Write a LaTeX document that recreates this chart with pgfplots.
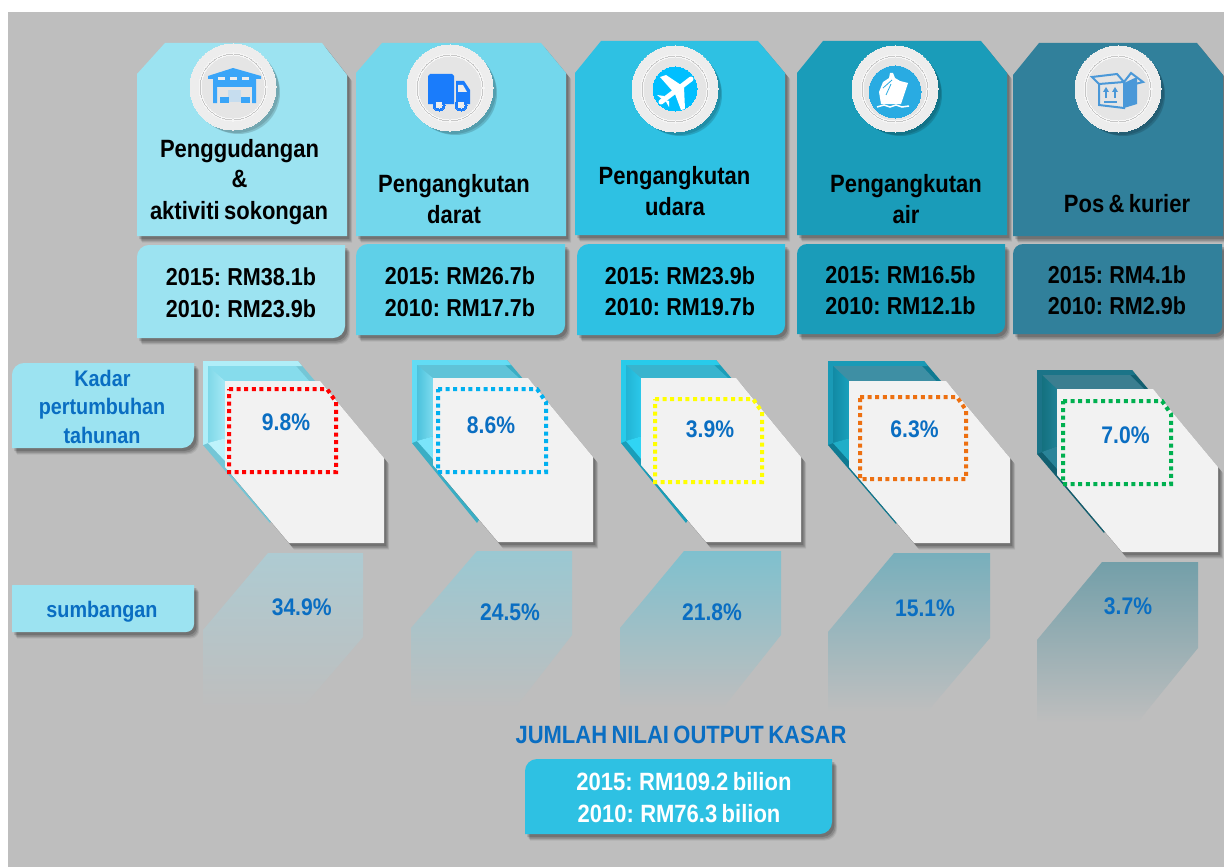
\documentclass[border=0pt]{standalone}
\usepackage{fontspec}
\setmainfont[FakeStretch=0.88,WordSpace=0.72]{Liberation Sans}
\usepackage{pgfplots}
\pgfplotsset{compat=1.18}

\definecolor{bg}{HTML}{BEBEBE}
\definecolor{cA}{HTML}{9CE3F1}
\definecolor{cB}{HTML}{73D7EC}
\definecolor{cBb}{HTML}{5FD0E8}
\definecolor{cC}{HTML}{2EC1E3}
\definecolor{cD}{HTML}{1A9CB9}
\definecolor{cE}{HTML}{31809B}
\definecolor{tblue}{HTML}{0A6EC2}
\definecolor{card}{HTML}{F2F2F2}
\definecolor{store}{HTML}{3AA5F8}
\definecolor{truck}{HTML}{1A7CFB}
\definecolor{sky}{HTML}{00BFFF}
\definecolor{sea}{HTML}{29ABE2}
\definecolor{parcel}{HTML}{4A98D8}
\definecolor{plat}{HTML}{EDEDED}
\definecolor{rA}{HTML}{AECBD2}
\definecolor{rB}{HTML}{9AC8D2}
\definecolor{rC}{HTML}{7FC0CE}
\definecolor{rD}{HTML}{78AFBC}
\definecolor{rE}{HTML}{739FA9}
\definecolor{kA}{HTML}{74C6D6}
\definecolor{kB}{HTML}{3AAEC4}
\definecolor{kC}{HTML}{1A9EB9}
\definecolor{kD}{HTML}{0F7A92}
\definecolor{kE}{HTML}{125F70}

% soft drop shadow, then the shape
\newcommand{\soft}[1]{%
  \addplot[draw=none,fill=black,fill opacity=.07,xshift=5.2pt,yshift=-6.5pt] coordinates {#1} -- cycle;
  \addplot[draw=none,fill=black,fill opacity=.1,xshift=4.4pt,yshift=-5.5pt] coordinates {#1} -- cycle;
  \addplot[draw=none,fill=black,fill opacity=.13,xshift=3.6pt,yshift=-4.5pt] coordinates {#1} -- cycle;
  \addplot[draw=none,fill=black,fill opacity=.16,xshift=2.4pt,yshift=-3pt] coordinates {#1} -- cycle;
}
\newcommand{\panel}[2]{%
  \soft{#2}
  \addplot[draw=none,fill=#1] coordinates {#2} -- cycle;
}
% box with rounded top-left (radius #6) and bottom-right (radius #7) corners
\newcommand{\rbox}[7]{%
  \pgfmathsetmacro\xa{#2+.076*#6}\pgfmathsetmacro\xb{#2+.293*#6}\pgfmathsetmacro\xc{#2+.617*#6}\pgfmathsetmacro\xd{#2+#6}
  \pgfmathsetmacro\ya{#3+#6}\pgfmathsetmacro\yb{#3+.617*#6}\pgfmathsetmacro\yc{#3+.293*#6}\pgfmathsetmacro\yd{#3+.076*#6}
  \pgfmathsetmacro\xe{#4-.076*#7}\pgfmathsetmacro\xf{#4-.293*#7}\pgfmathsetmacro\xg{#4-.617*#7}\pgfmathsetmacro\xh{#4-#7}
  \pgfmathsetmacro\ye{#5-#7}\pgfmathsetmacro\yf{#5-.617*#7}\pgfmathsetmacro\yg{#5-.293*#7}\pgfmathsetmacro\yh{#5-.076*#7}
  \panel{#1}{(#2,\ya)(\xa,\yb)(\xb,\yc)(\xc,\yd)(\xd,#3)(#4,#3)(#4,\ye)(\xe,\yf)(\xf,\yg)(\xg,\yh)(\xh,#5)(#2,#5)}
}
\newcommand{\disc}[4]{%
  \addplot[only marks,mark=*,mark size=#2pt,mark options={draw=#1,line width=0pt,fill=#1}] coordinates {(#3,#4)};
}
\newcommand{\plate}[2]{%
  \addplot[only marks,xshift=6pt,yshift=-6pt,mark=*,mark size=41pt,mark options={draw opacity=0,fill=black,fill opacity=.07}] coordinates {(#1,#2)};
  \addplot[only marks,xshift=5pt,yshift=-5pt,mark=*,mark size=42pt,mark options={draw opacity=0,fill=black,fill opacity=.09}] coordinates {(#1,#2)};
  \addplot[only marks,xshift=3pt,yshift=-3pt,mark=*,mark size=43pt,mark options={draw opacity=0,fill=black,fill opacity=.12}] coordinates {(#1,#2)};
  \disc{plat}{43}{#1}{#2}
  \disc{white!96!black}{34}{#1}{#2}
  \disc{black!22}{32.8}{#1}{#2}
  \disc{white!97!black}{32}{#1}{#2}
  \disc{white!90!black}{31}{#1}{#2}
}
\newcommand{\txt}[5]{%
  \node[anchor=base,inner sep=0pt,text=#3,font=\bfseries\fontsize{#4}{#4}\selectfont] at (axis cs:#1,#2) {#5};
}

\begin{document}
\begin{tikzpicture}
\begin{axis}[
    scale only axis,
    width=1224pt,
    height=867pt,
    xmin=0, xmax=1224,
    ymin=0, ymax=867,
    y dir=reverse,
    hide axis,
    clip mode=individual,
]
\addplot[draw=none,fill=white] coordinates {(0,0)(1224,0)(1224,867)(0,867)} -- cycle;
\addplot[draw=none,fill=bg] coordinates {(8,12)(1224,12)(1224,867)(8,867)} -- cycle;

% header panels
\panel{cA}{(137,74)(165,43)(322,43)(347,75)(347,236)(137,236)}
\panel{cB}{(356,73)(382,43)(541,43)(566,73)(566,236)(356,236)}
\panel{cC}{(575,73)(601,41)(758,41)(785,73)(785,235)(575,235)}
\panel{cD}{(797,73)(823,41)(981,41)(1007,73)(1007,235)(797,235)}
\panel{cE}{(1013,75)(1039,43)(1197,43)(1223,75)(1223,236)(1013,236)}

% medallions
\plate{233}{87}
\plate{450}{88}
\plate{675}{89}
\plate{895}{89}
\plate{1118}{89}

% warehouse
\addplot[draw=none,fill=store] coordinates {(233,68)(261,76)(261,79)(256,79)(256,103)(252,103)(252,87)(217,87)(217,103)(213,103)(213,79)(208,79)(208,76)} -- cycle;
\addplot[draw=none,fill=plat] coordinates {(218,77)(225,77)(225,80)(218,80)} -- cycle;
\addplot[draw=none,fill=plat] coordinates {(230,77)(237,77)(237,80)(230,80)} -- cycle;
\addplot[draw=none,fill=plat] coordinates {(242,77)(249,77)(249,80)(242,80)} -- cycle;
\addplot[draw=none,fill=store!22!plat] coordinates {(228,90)(241,90)(241,102)(228,102)} -- cycle;
\addplot[draw=none,fill=store] coordinates {(220,97)(229,97)(229,103)(220,103)} -- cycle;
\addplot[draw=none,fill=store] coordinates {(241,97)(250,97)(250,103)(241,103)} -- cycle;

% truck
\addplot[draw=none,fill=truck] coordinates {(428,76)(430,74)(452,74)(454,76)(454,104)(428,104)} -- cycle;
\addplot[draw=none,fill=truck] coordinates {(456,81)(464,81)(470,90)(470,104)(456,104)} -- cycle;
\addplot[draw=none,fill=plat] coordinates {(458,85)(463,85)(467,92)(458,92)} -- cycle;
\disc{truck}{6}{439}{105}
\disc{truck}{6}{461}{105}
\disc{plat}{3}{439}{105}
\disc{plat}{3}{461}{105}

% plane
\disc{sky}{22}{675}{89}
\addplot[line width=5pt,white,line cap=round] coordinates {(691,79)(661,102)};
\addplot[draw=none,fill=white] coordinates {(660,77)(666,75)(684,87)(675,94)} -- cycle;
\addplot[draw=none,fill=white] coordinates {(675,94)(684,87)(685,109)(681,110)} -- cycle;
\addplot[draw=none,fill=white] coordinates {(657,95)(664,96)(663,100)} -- cycle;
\addplot[draw=none,fill=white] coordinates {(665,100)(669,101)(669,107)} -- cycle;

% ship
\disc{sea}{26}{895}{92}
\addplot[draw=none,fill=white] coordinates {(908,83)(901,104)(881,104)(879,92)(883,82)(889,78)(890,73)(893,73)(895,78)(900,81)} -- cycle;
\addplot[line width=.8pt,sea] coordinates {(883,88)(892,80)};
\addplot[line width=.8pt,sea] coordinates {(886,95)(891,84)};
\addplot[line width=1.5pt,white] coordinates {(877,107)(884,105)(890,107)(896,105)(902,107)(909,106)};

% parcel
\addplot[line width=2pt,parcel] coordinates {(1099,84)(1099,105)(1124,108)(1124,82)(1099,84)};
\addplot[draw=none,fill=parcel] coordinates {(1124,83)(1137,77)(1137,104)(1124,108)} -- cycle;
\addplot[line width=2pt,parcel] coordinates {(1099,84)(1092,77)(1117,74)(1124,82)};
\addplot[line width=2pt,parcel] coordinates {(1124,82)(1131,73)(1143,82)(1135,84)};
\addplot[line width=1.3pt,parcel] coordinates {(1106,98)(1106,90)};
\addplot[line width=1.3pt,parcel] coordinates {(1115,98)(1115,90)};
\addplot[draw=none,fill=parcel] coordinates {(1106,87)(1109,92)(1103,92)} -- cycle;
\addplot[draw=none,fill=parcel] coordinates {(1115,87)(1118,92)(1112,92)} -- cycle;
\addplot[line width=1.6pt,parcel] coordinates {(1104,102)(1117,102)};

% figures boxes
\rbox{cA}{137}{245}{345}{338}{12}{12}
\rbox{cBb}{356}{244}{565}{335}{12}{10}
\rbox{cC}{577}{244}{785}{335}{12}{10}
\rbox{cD}{797}{244}{1005}{334}{10}{10}
\rbox{cE}{1013}{244}{1222}{334}{10}{8}

% row labels
\rbox{cA}{12}{363}{194}{448}{12}{12}
\rbox{cA}{12}{585}{194}{632}{1}{8}

% bevelled frames
\addplot[draw=none,fill=kA] coordinates {(203,361)(298,361)(326,394)(300,470)(270,523)(203,445)} -- cycle;
\addplot[draw=none,fill={rgb,255:red,176;green,238;blue,248}] coordinates {(203,361)(298,361)(302,366)(208,366)(208,443)(203,445)} -- cycle;
\addplot[draw=none,fill={rgb,255:red,134;green,220;blue,236}] coordinates {(208,366)(296,366)(310,382)(208,382)} -- cycle;
\addplot[draw=none,left color={rgb,255:red,127;green,216;blue,232},right color={rgb,255:red,168;green,234;blue,246}] coordinates {(208,366)(226,382)(226,438)(208,443)} -- cycle;
\addplot[draw=none,fill={rgb,255:red,190;green,243;blue,251}] coordinates {(208,443)(226,438)(226,462)} -- cycle;

\addplot[draw=none,fill=kB] coordinates {(412,360)(507,360)(535,393)(510,470)(477,523)(412,443)} -- cycle;
\addplot[draw=none,fill={rgb,255:red,98;green,220;blue,244}] coordinates {(412,360)(507,360)(511,365)(417,365)(417,441)(412,443)} -- cycle;
\addplot[draw=none,fill={rgb,255:red,95;green,195;blue,216}] coordinates {(417,365)(505,365)(520,379)(417,379)} -- cycle;
\addplot[draw=none,left color={rgb,255:red,76;green,194;blue,220},right color={rgb,255:red,128;green,221;blue,240}] coordinates {(417,365)(434,379)(434,436)(417,441)} -- cycle;
\addplot[draw=none,fill={rgb,255:red,122;green,228;blue,250}] coordinates {(417,441)(434,436)(434,460)} -- cycle;

\addplot[draw=none,fill=kC] coordinates {(621,360)(716,360)(744,393)(720,470)(686,523)(621,443)} -- cycle;
\addplot[draw=none,fill={rgb,255:red,40;green,203;blue,234}] coordinates {(621,360)(716,360)(720,365)(626,365)(626,441)(621,443)} -- cycle;
\addplot[draw=none,fill={rgb,255:red,56;green,180;blue,206}] coordinates {(626,365)(714,365)(729,379)(626,379)} -- cycle;
\addplot[draw=none,left color={rgb,255:red,34;green,180;blue,212},right color={rgb,255:red,44;green,202;blue,236}] coordinates {(626,365)(642,379)(642,436)(626,441)} -- cycle;
\addplot[draw=none,fill={rgb,255:red,48;green,212;blue,244}] coordinates {(626,441)(642,436)(642,460)} -- cycle;

\addplot[draw=none,fill=kD] coordinates {(828,361)(924,361)(952,394)(930,470)(896,524)(828,445)} -- cycle;
\addplot[draw=none,fill={rgb,255:red,26;green,154;blue,182}] coordinates {(828,361)(924,361)(928,366)(833,366)(833,443)(828,445)} -- cycle;
\addplot[draw=none,fill={rgb,255:red,62;green,143;blue,164}] coordinates {(833,366)(922,366)(937,382)(833,382)} -- cycle;
\addplot[draw=none,left color={rgb,255:red,18;green,138;blue,164},right color={rgb,255:red,26;green,162;blue,190}] coordinates {(833,366)(850,382)(850,438)(833,443)} -- cycle;
\addplot[draw=none,fill={rgb,255:red,32;green,174;blue,200}] coordinates {(833,443)(850,438)(850,462)} -- cycle;

\addplot[draw=none,fill=kE] coordinates {(1037,370)(1132,370)(1160,403)(1136,480)(1104,533)(1037,454)} -- cycle;
\addplot[draw=none,fill={rgb,255:red,27;green,116;blue,136}] coordinates {(1037,370)(1132,370)(1136,375)(1042,375)(1042,452)(1037,454)} -- cycle;
\addplot[draw=none,fill={rgb,255:red,59;green,126;blue,144}] coordinates {(1042,375)(1130,375)(1145,390)(1042,390)} -- cycle;
\addplot[draw=none,left color={rgb,255:red,20;green,113;blue,127},right color={rgb,255:red,31;green,130;blue,152}] coordinates {(1042,375)(1058,390)(1058,446)(1042,452)} -- cycle;
\addplot[draw=none,fill={rgb,255:red,42;green,132;blue,153}] coordinates {(1042,452)(1058,446)(1058,470)} -- cycle;

% white cards
\panel{card}{(225,381)(320,381)(384,458)(384,543)(289,543)(225,467)}
\panel{card}{(433,378)(528,378)(593,457)(593,542)(498,542)(433,465)}
\panel{card}{(641,378)(736,378)(801,457)(801,542)(706,542)(641,465)}
\panel{card}{(849,381)(946,381)(1010,458)(1010,543)(914,543)(849,467)}
\panel{card}{(1057,389)(1153,389)(1218,467)(1218,552)(1122,552)(1057,475)}

% dotted frames
\addplot[line width=4pt,color={rgb,255:red,255;green,0;blue,0},dash pattern=on 4pt off 3.6pt] coordinates {(229,389)(327,389)(336,402)(336,472)(229,472)(229,389)};
\addplot[line width=4pt,color={rgb,255:red,0;green,176;blue,240},dash pattern=on 4pt off 3.6pt] coordinates {(438,389)(537,389)(546,402)(546,472)(438,472)(438,389)};
\addplot[line width=4pt,color={rgb,255:red,255;green,255;blue,0},dash pattern=on 4pt off 3.6pt] coordinates {(655,399)(753,399)(762,412)(762,482)(655,482)(655,399)};
\addplot[line width=4pt,color={rgb,255:red,237;green,112;blue,17},dash pattern=on 4pt off 3.6pt] coordinates {(860,397)(957,397)(966,410)(966,479)(860,479)(860,397)};
\addplot[line width=4pt,color={rgb,255:red,0;green,176;blue,80},dash pattern=on 4pt off 3.6pt] coordinates {(1063,401)(1162,401)(1171,414)(1171,484)(1063,484)(1063,401)};

% reflections
\addplot[draw=none,top color=rA,bottom color=bg] coordinates {(268,553)(363,553)(363,637)(302,708)(203,708)(203,630)} -- cycle;
\addplot[draw=none,top color=rB,bottom color=bg] coordinates {(477,551)(572,551)(572,635)(515,708)(411,708)(411,628)} -- cycle;
\addplot[draw=none,top color=rC,bottom color=bg] coordinates {(684,551)(781,551)(781,635)(723,708)(620,708)(620,628)} -- cycle;
\addplot[draw=none,top color=rD,bottom color=bg] coordinates {(894,553)(990,553)(990,638)(927,712)(828,712)(828,632)} -- cycle;
\addplot[draw=none,top color=rE,bottom color=bg] coordinates {(1102,562)(1198,562)(1198,648)(1137,723)(1037,723)(1037,640)} -- cycle;

% total box
\rbox{cC}{525}{759}{832}{834}{12}{12}

% text
\txt{239.5}{157}{black}{25}{Penggudangan}
\txt{239.5}{187}{black}{25}{\&}
\txt{239}{219}{black}{25}{aktiviti sokongan}
\txt{454}{192}{black}{25}{Pengangkutan}
\txt{454}{223}{black}{25}{darat}
\txt{674.5}{184}{black}{25}{Pengangkutan}
\txt{675}{215}{black}{25}{udara}
\txt{906}{192}{black}{25}{Pengangkutan}
\txt{906}{223}{black}{25}{air}
\txt{1127}{212}{black}{25}{Pos \& kurier}

\txt{241}{285}{black}{24.5}{2015: RM38.1b}
\txt{241}{317}{black}{24.5}{2010: RM23.9b}
\txt{460}{284}{black}{24.5}{2015: RM26.7b}
\txt{460}{316}{black}{24.5}{2010: RM17.7b}
\txt{680}{284}{black}{24.5}{2015: RM23.9b}
\txt{680}{315}{black}{24.5}{2010: RM19.7b}
\txt{900.5}{283}{black}{24.5}{2015: RM16.5b}
\txt{900.5}{314}{black}{24.5}{2010: RM12.1b}
\txt{1117}{283}{black}{24.5}{2015: RM4.1b}
\txt{1117}{314}{black}{24.5}{2010: RM2.9b}

\txt{102.5}{386}{tblue}{22.5}{Kadar}
\txt{102}{414}{tblue}{22.5}{pertumbuhan}
\txt{102}{443}{tblue}{22.5}{tahunan}
\txt{102}{617}{tblue}{22.5}{sumbangan}

\txt{286}{430}{tblue}{24}{9.8\%}
\txt{491}{433}{tblue}{24}{8.6\%}
\txt{710}{437}{tblue}{24}{3.9\%}
\txt{914.5}{437}{tblue}{24}{6.3\%}
\txt{1125.5}{443}{tblue}{24}{7.0\%}

\txt{301.7}{615}{tblue}{24}{34.9\%}
\txt{510}{620}{tblue}{24}{24.5\%}
\txt{712}{620}{tblue}{24}{21.8\%}
\txt{925}{616}{tblue}{24}{15.1\%}
\txt{1128}{614}{tblue}{24}{3.7\%}

\txt{681}{743}{tblue}{25}{JUMLAH NILAI OUTPUT KASAR}
\txt{684}{790}{white}{25}{2015: RM109.2 bilion}
\txt{679}{822}{white}{25}{2010: RM76.3 bilion}
\end{axis}
\pgfresetboundingbox
\useasboundingbox (current axis.south west) rectangle (current axis.north east);
\end{tikzpicture}
\end{document}
